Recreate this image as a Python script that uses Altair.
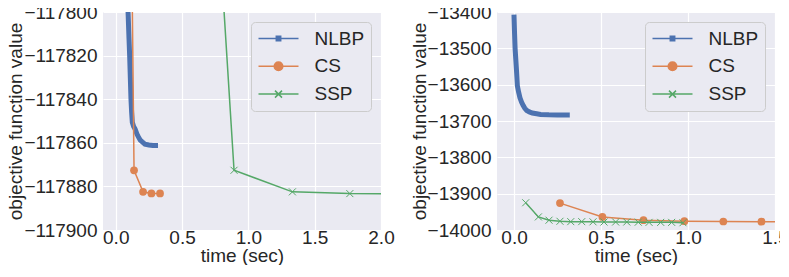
import altair as alt
import pandas as pd

FONT = "Liberation Sans"
TXT = "#262626"
series = ["NLBP", "CS", "SSP"]
colors = ["#4C72B0", "#DD8452", "#55A868"]

# ---- left panel data ----
l_nlbp_t = [0.082, 0.093, 0.100, 0.105, 0.110, 0.115, 0.120, 0.125, 0.135, 0.146, 0.160, 0.171, 0.185, 0.200, 0.220, 0.250, 0.280, 0.300]
l_nlbp_v = [-117780, -117800, -117812, -117820, -117830, -117840, -117846, -117850.6, -117852.5, -117853.7, -117856, -117857.3, -117858.8, -117859.6, -117860.6, -117861, -117861.2, -117861.2]
l_cs_t = [0.115, 0.138, 0.206, 0.269, 0.334]
l_cs_v = [-117740, -117872.6, -117882.5, -117883.2, -117883.2]
l_ssp_t = [0.76, 0.892, 1.332, 1.765, 2.2]
l_ssp_v = [-117745, -117872.6, -117882.5, -117883.3, -117883.5]

# ---- right panel data ----
r_nlbp_t = [0.0, 0.003, 0.006, 0.010, 0.014, 0.019, 0.026, 0.034, 0.043, 0.052, 0.062, 0.073, 0.088, 0.105, 0.130, 0.153, 0.200, 0.250, 0.306]
r_nlbp_v = [-13414, -13460, -13500, -13530, -13560, -13603, -13620, -13636, -13648, -13657, -13665, -13671, -13675, -13678, -13680, -13682, -13683, -13683.5, -13683.5]
r_cs_t = [0.264, 0.508, 0.744, 0.979, 1.203, 1.422, 1.65]
r_cs_v = [-13926, -13964, -13973, -13975.7, -13976.6, -13977, -13977.2]
r_ssp_t = [0.067, 0.140, 0.201, 0.264, 0.326, 0.389, 0.454, 0.517, 0.584, 0.648, 0.714, 0.776, 0.843, 0.906, 0.971]
r_ssp_v = [-13925, -13964, -13973, -13976, -13977, -13977, -13977.5, -13978, -13978, -13978, -13978.5, -13979, -13979, -13979, -13980]

l_xdom = [-0.096, 2.0]
l_xticks = [0.0, 0.5, 1.0, 1.5, 2.0]
l_ydom = [-117900, -117800]
l_yticks = [-117900, -117880, -117860, -117840, -117820, -117800]
r_xdom = [-0.098, 1.5]
r_xticks = [0.0, 0.5, 1.0, 1.5]
r_ydom = [-14000, -13400]
r_yticks = [-14000, -13900, -13800, -13700, -13600, -13500, -13400]

X_PATH = "M-1,-1L1,1M-1,1L1,-1"
SQ = "M-0.11,-0.11H0.11V0.11H-0.11Z"
CIRC = "M0.215,0A0.215,0.215,0,1,1,-0.215,0A0.215,0.215,0,1,1,0.215,0Z"
XS = "M-0.175,-0.175L0.175,0.175M-0.175,0.175L0.175,-0.175"
shape_expr = ("datum.value === 'NLBP' ? 'M-1,0H1" + SQ + "' : datum.value === 'CS' ? 'M-1,0H1"
              + CIRC + "' : 'M-1,0H1" + XS + "'")
col_expr = "datum.value === 'NLBP' ? '#4C72B0' : datum.value === 'CS' ? '#DD8452' : '#55A868'"


def make_legend():
    return alt.Legend(
        title=None, orient="top-right", offset=10,
        symbolType=alt.ExprRef(shape_expr),
        symbolFillColor=alt.ExprRef(col_expr),
        symbolStrokeColor=alt.ExprRef(col_expr),
        symbolOpacity=1,
        symbolSize=1600, symbolStrokeWidth=1.5, clipHeight=20, rowPadding=7.8,
        labelOffset=15, padding=6.5, labelFontSize=19, labelFont=FONT, labelColor=TXT,
        fillColor="#EAEAF2", strokeColor="#CCCCCC", cornerRadius=4,
    )


def frame(t, v, name):
    return pd.DataFrame({"t": t, "v": v, "s": [name] * len(t)})


def panel(nl, cs, ssp, xdom, xticks, ydom, yticks):
    x = alt.X("t:Q", scale=alt.Scale(domain=xdom, nice=False, zero=False),
              axis=alt.Axis(values=xticks, format=".1f", title="time (sec)",
                            labelPadding=-2, titlePadding=-1, labelFlush=False))
    y = alt.Y("v:Q", scale=alt.Scale(domain=ydom, nice=False, zero=False),
              axis=alt.Axis(values=yticks, format="d", title="objective function value",
                            labelPadding=6, titlePadding=-2, labelFlush=False))
    c = alt.Color("s:N", scale=alt.Scale(domain=series, range=colors), legend=make_legend())
    l1 = alt.Chart(nl).mark_line(clip=True, strokeWidth=5, strokeCap="square").encode(x=x, y=y, color=c)
    l2 = alt.Chart(cs).mark_line(clip=True, strokeWidth=1.5).encode(x=x, y=y, color=c)
    p2 = alt.Chart(cs).mark_point(clip=True, filled=True, shape="circle", size=60, opacity=1).encode(x=x, y=y, color=c)
    l3 = alt.Chart(ssp).mark_line(clip=True, strokeWidth=1.5).encode(x=x, y=y, color=c)
    p3 = alt.Chart(ssp).mark_point(clip=True, filled=False, shape=X_PATH, size=49, strokeWidth=1, opacity=1).encode(x=x, y=y, color=c)
    return alt.layer(l1, l2, p2, l3, p3).properties(width=278, height=218)


left = panel(frame(l_nlbp_t, l_nlbp_v, "NLBP"), frame(l_cs_t, l_cs_v, "CS"), frame(l_ssp_t, l_ssp_v, "SSP"),
             l_xdom, l_xticks, l_ydom, l_yticks)
right = panel(frame(r_nlbp_t, r_nlbp_v, "NLBP"), frame(r_cs_t, r_cs_v, "CS"), frame(r_ssp_t, r_ssp_v, "SSP"),
              r_xdom, r_xticks, r_ydom, r_yticks)

chart = alt.hconcat(left, right, spacing=116, bounds="flush").resolve_scale(color="independent").properties(
    padding={"left": -2, "top": -5, "right": -9, "bottom": 0}
).configure(background="white").configure_view(fill="#EAEAF2", stroke=None).configure_axis(
    domain=False, ticks=False, grid=True, gridColor="white", gridWidth=1.2,
    labelFont=FONT, labelFontSize=19, labelColor=TXT,
    titleFont=FONT, titleFontSize=19, titleColor=TXT, titleFontWeight="normal",
)

chart.save("out.html", embed_options={"renderer": "svg", "actions": False})
